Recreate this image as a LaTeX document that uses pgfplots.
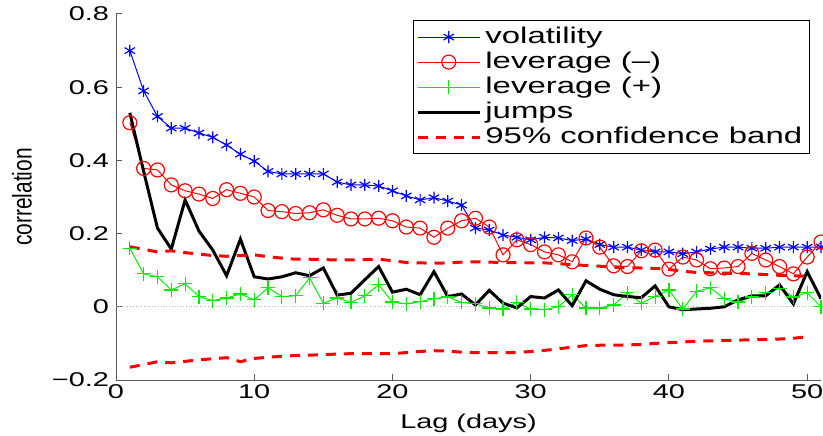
\documentclass[border=0pt]{standalone}
\usepackage{pgfplots}
\pgfplotsset{compat=1.18}
\usepackage{fontspec}
\setmainfont{Liberation Sans}[FakeStretch=1.45]
\newfontfamily\plainsans{Liberation Sans}
\definecolor{mblue}{RGB}{0,0,255}
\definecolor{mred}{RGB}{255,0,0}
\definecolor{mgreen}{RGB}{0,235,0}

\begin{document}
\begin{tikzpicture}
\begin{axis}[
    scale only axis,
    width=352.5bp, height=183bp,
    xmin=0, xmax=51, ymin=-0.2, ymax=0.8,
    xtick={0,10,20,30,40,50},
    ytick={-0.2,0,0.2,0.4,0.6,0.8},
    yticklabels={−0.2,0,0.2,0.4,0.6,0.8},
    axis x line*=bottom, axis y line*=left,
    axis line style={gray!70!black, line width=0.5pt},
    tick align=inside, major tick length=3bp,
    tick style={gray!70!black, line width=0.5pt},
    /pgf/number format/assume math mode=true,
    tick label style={font=\fontsize{10}{12}\selectfont},
    xticklabel style={yshift=1bp},
    xlabel={Lag (days)},
    xlabel style={font=\fontsize{10}{12}\selectfont, at={(axis description cs:0.5,0)}, anchor=center, yshift=-21.5bp},
    ylabel={\scalebox{1}[1.3]{\plainsans\fontsize{10.5}{12}\selectfont correlation}},
    ylabel style={at={(axis description cs:0,0.5)}, anchor=center, yshift=47bp},
    legend style={at={(rel axis cs:0.984,0.984)}, anchor=north east,
        font=\fontsize{11.4}{13}\selectfont, draw=black, line width=0.5pt,
        row sep=-1.2bp, inner sep=1.5bp},
    legend cell align=left,
    legend image code/.code={\draw[mark repeat=2,mark phase=2,#1] plot coordinates {(0cm,0cm) (0.55cm,0cm) (1.1cm,0cm)};},
]
% zero reference
\addplot[forget plot, gray!60, densely dotted, line width=0.4pt] coordinates {(0,0) (51,0)};
% volatility
\addplot[mblue, line width=0.5pt, mark=asterisk, mark size=3bp, mark options={line width=0.6pt}] coordinates {
(1,0.700) (2,0.590) (3,0.520) (4,0.488) (5,0.488) (6,0.475) (7,0.463) (8,0.442) (9,0.417) (10,0.398)
(11,0.370) (12,0.363) (13,0.363) (14,0.363) (15,0.363) (16,0.341) (17,0.333) (18,0.333) (19,0.330) (20,0.317)
(21,0.303) (22,0.292) (23,0.298) (24,0.289) (25,0.278) (26,0.215) (27,0.210) (28,0.196) (29,0.190) (30,0.183)
(31,0.190) (32,0.188) (33,0.181) (34,0.185) (35,0.170) (36,0.163) (37,0.163) (38,0.155) (39,0.150) (40,0.150)
(41,0.145) (42,0.150) (43,0.158) (44,0.163) (45,0.163) (46,0.160) (47,0.160) (48,0.163) (49,0.163) (50,0.163)
(51,0.163)
};
% leverage (-)
\addplot[mred, line width=0.5pt, mark=o, mark size=3.5bp, mark options={line width=0.6pt}] coordinates {
(1,0.503) (2,0.378) (3,0.374) (4,0.333) (5,0.317) (6,0.308) (7,0.296) (8,0.320) (9,0.310) (10,0.300)
(11,0.263) (12,0.260) (13,0.255) (14,0.257) (15,0.265) (16,0.250) (17,0.240) (18,0.240) (19,0.242) (20,0.235)
(21,0.218) (22,0.215) (23,0.190) (24,0.215) (25,0.235) (26,0.242) (27,0.218) (28,0.142) (29,0.183) (30,0.170)
(31,0.150) (32,0.142) (33,0.123) (34,0.188) (35,0.163) (36,0.112) (37,0.110) (38,0.153) (39,0.155) (40,0.103)
(41,0.136) (42,0.128) (43,0.104) (44,0.106) (45,0.110) (46,0.146) (47,0.128) (48,0.110) (49,0.090) (50,0.136)
(51,0.177)
};
% leverage (+)
\addplot[mgreen, line width=0.5pt, mark=+, mark size=3.5bp, mark options={line width=0.6pt}] coordinates {
(1,0.160) (2,0.090) (3,0.082) (4,0.046) (5,0.063) (6,0.028) (7,0.017) (8,0.024) (9,0.035) (10,0.019)
(11,0.052) (12,0.028) (13,0.030) (14,0.079) (15,0.010) (16,0.024) (17,0.012) (18,0.030) (19,0.060) (20,0.013)
(21,0.008) (22,0.014) (23,0.022) (24,0.027) (25,0.012) (26,0.008) (27,-0.003) (28,-0.006) (29,0.012) (30,-0.006)
(31,-0.008) (32,0.000) (33,0.033) (34,-0.003) (35,-0.003) (36,0.005) (37,0.038) (38,0.010) (39,0.028) (40,0.046)
(41,-0.006) (42,0.042) (43,0.052) (44,0.022) (45,0.013) (46,0.027) (47,0.038) (48,0.050) (49,0.027) (50,0.038)
(51,0.000)
};
% jumps
\addplot[black, line width=1.5pt, no marks] coordinates {
(1,0.530) (2,0.370) (3,0.215) (4,0.158) (5,0.292) (6,0.207) (7,0.155) (8,0.085) (9,0.185) (10,0.082)
(11,0.076) (12,0.082) (13,0.093) (14,0.085) (15,0.106) (16,0.032) (17,0.037) (18,0.074) (19,0.110) (20,0.040)
(21,0.048) (22,0.033) (23,0.096) (24,0.028) (25,0.035) (26,0.005) (27,0.045) (28,0.010) (29,-0.003) (30,0.028)
(31,0.024) (32,0.046) (33,0.003) (34,0.071) (35,0.048) (36,0.033) (37,0.028) (38,0.025) (39,0.057) (40,0.000)
(41,-0.008) (42,-0.006) (43,-0.004) (44,0.000) (45,0.019) (46,0.030) (47,0.030) (48,0.060) (49,0.008) (50,0.096)
(51,0.022)
};
% upper 95% band
\addplot[mred, line width=1.5pt, dash pattern=on 5bp off 4bp, no marks] coordinates {
(1,0.164) (2,0.157) (3,0.150) (4,0.153) (5,0.148) (6,0.144) (7,0.140) (8,0.138) (9,0.140) (10,0.142)
(11,0.137) (12,0.133) (13,0.130) (14,0.130) (15,0.129) (16,0.128) (17,0.128) (18,0.129) (19,0.130) (20,0.126)
(21,0.121) (22,0.120) (23,0.119) (24,0.120) (25,0.122) (26,0.123) (27,0.122) (28,0.121) (29,0.121) (30,0.120)
(31,0.120) (32,0.118) (33,0.115) (34,0.113) (35,0.111) (36,0.108) (37,0.107) (38,0.106) (39,0.105) (40,0.102)
(41,0.097) (42,0.094) (43,0.093) (44,0.092) (45,0.091) (46,0.090) (47,0.088) (48,0.086) (49,0.085) (50,0.083)
};
% lower 95% band
\addplot[forget plot, mred, line width=1.5pt, dash pattern=on 5bp off 4bp, no marks] coordinates {
(1,-0.165) (2,-0.158) (3,-0.150) (4,-0.153) (5,-0.149) (6,-0.145) (7,-0.142) (8,-0.139) (9,-0.150) (10,-0.141)
(11,-0.138) (12,-0.135) (13,-0.133) (14,-0.132) (15,-0.131) (16,-0.129) (17,-0.128) (18,-0.128) (19,-0.128) (20,-0.128)
(21,-0.125) (22,-0.122) (23,-0.120) (24,-0.121) (25,-0.124) (26,-0.125) (27,-0.125) (28,-0.125) (29,-0.125) (30,-0.122)
(31,-0.119) (32,-0.115) (33,-0.110) (34,-0.106) (35,-0.105) (36,-0.105) (37,-0.104) (38,-0.103) (39,-0.100) (40,-0.098)
(41,-0.096) (42,-0.094) (43,-0.093) (44,-0.092) (45,-0.091) (46,-0.090) (47,-0.089) (48,-0.088) (49,-0.086) (50,-0.082)
};
\legend{volatility, leverage (–), leverage (+), jumps, 95\% confidence band}
\end{axis}
\pgfresetboundingbox
\path ([shift={(-58bp,-27.5bp)}]current axis.south west) rectangle ([shift={(1bp,7bp)}]current axis.north east);
\end{tikzpicture}
\end{document}
